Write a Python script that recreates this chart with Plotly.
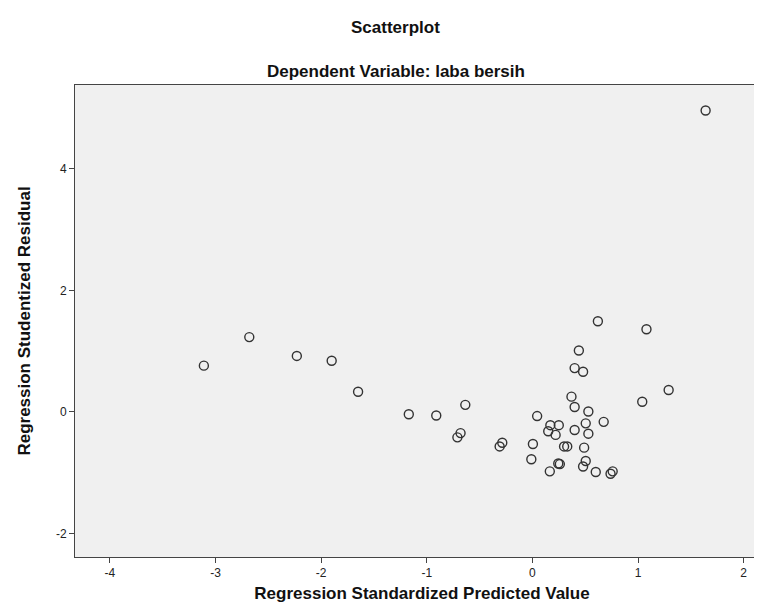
import plotly.graph_objects as go

# Regression Standardized Predicted Value (x) and Studentized Residual (y)
pred = [-3.11, -2.68, -2.23, -1.90, -1.65, -1.17, -0.91, -0.635, -0.68, -0.71,
        -0.285, -0.31, 0.005, -0.01, 0.045, 0.17, 0.25, 0.15, 0.22, 0.30,
        0.33, 0.245, 0.26, 0.165, 0.37, 0.40, 0.40, 0.44, 0.40, 0.48,
        0.53, 0.505, 0.53, 0.49, 0.505, 0.48, 0.60, 0.675, 0.74, 0.76,
        0.62, 1.08, 1.04, 1.29, 1.64]
resid = [0.76, 1.23, 0.92, 0.84, 0.33, -0.04, -0.06, 0.115, -0.35, -0.42,
         -0.51, -0.57, -0.53, -0.78, -0.07, -0.22, -0.22, -0.32, -0.38, -0.57,
         -0.57, -0.85, -0.86, -0.98, 0.25, 0.08, -0.30, 1.01, 0.72, 0.66,
         0.005, -0.19, -0.36, -0.59, -0.81, -0.90, -0.99, -0.165, -1.02, -0.98,
         1.49, 1.36, 0.165, 0.36, 4.96]

x_ticks = [-4, -3, -2, -1, 0, 1, 2]
x_tick_labels = ["-4", "-3", "-2", "-1", "0", "1", "2"]
y_ticks = [-2, 0, 2, 4]
y_tick_labels = ["-2", "0", "2", "4"]

FONT = "Liberation Sans, Arial, sans-serif"

fig = go.Figure()
fig.add_trace(go.Scatter(
    x=pred, y=resid, mode="markers",
    marker=dict(symbol="circle-open", size=9, color="#333333",
                line=dict(width=1.4, color="#333333")),
    hoverinfo="x+y", showlegend=False,
))

axis_common = dict(
    showgrid=False, zeroline=False, showline=True, mirror=True,
    linecolor="#444444", linewidth=1, ticks="outside", ticklen=5,
    tickwidth=1, tickcolor="#444444",
    tickfont=dict(family=FONT, size=12, color="#222222"),
)

fig.update_layout(
    width=762, height=606,
    paper_bgcolor="white", plot_bgcolor="#F0F0F0",
    margin=dict(l=67, r=1, t=77, b=57),
    font=dict(family=FONT, color="#000000"),
    xaxis=dict(range=[-4.33, 2.24], tickvals=x_ticks, ticktext=x_tick_labels,
               title=dict(text="<b>Regression Standardized Predicted Value</b>",
                          font=dict(family=FONT, size=17, color="#111111"), standoff=7),
               **axis_common),
    yaxis=dict(range=[-2.39, 5.38], tickvals=y_ticks, ticktext=y_tick_labels,
               title=dict(text="<b>Regression Studentized Residual</b>",
                          font=dict(family=FONT, size=17, color="#111111"), standoff=20),
               **axis_common),
    annotations=[
        dict(text="<b>Scatterplot</b>", xref="paper", yref="paper",
             x=0.462, y=1.0, yshift=58, showarrow=False,
             font=dict(family=FONT, size=17, color="#111111"),
             xanchor="center", yanchor="middle"),
        dict(text="<b>Dependent Variable: laba bersih</b>", xref="paper", yref="paper",
             x=0.462, y=1.0, yshift=14, showarrow=False,
             font=dict(family=FONT, size=17, color="#111111"),
             xanchor="center", yanchor="middle"),
    ],
)

fig.write_html("out.html")
